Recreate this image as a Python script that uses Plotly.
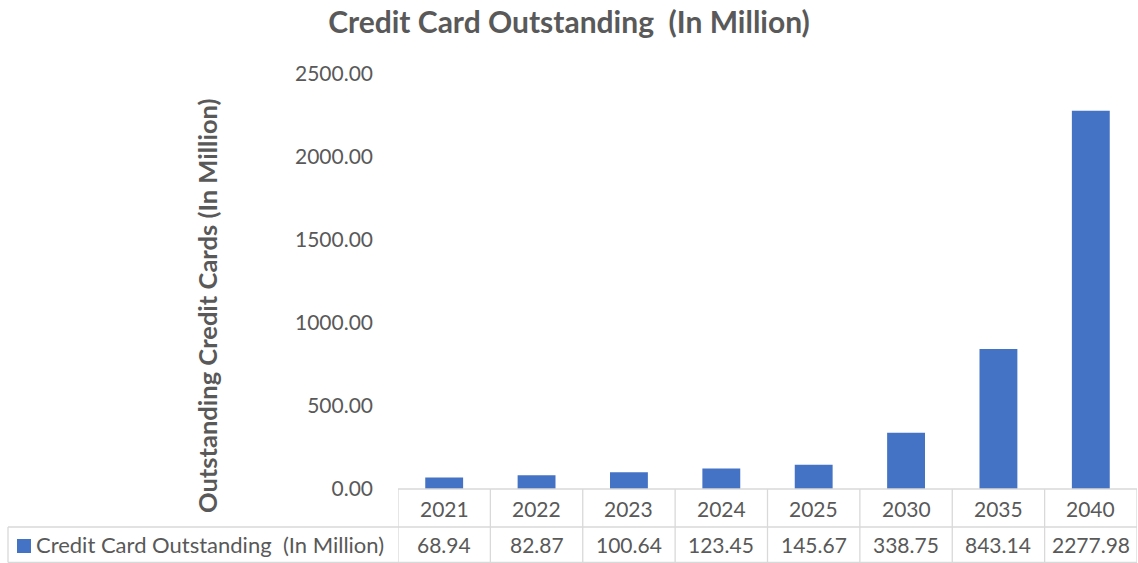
import plotly.graph_objects as go

# Data
years = ["2021", "2022", "2023", "2024", "2025", "2030", "2035", "2040"]
outstanding = [68.94, 82.87, 100.64, 123.45, 145.67, 338.75, 843.14, 2277.98]
series_name = "Credit Card Outstanding\u00a0\u00a0(In Million)"
chart_title = "Credit Card Outstanding\u00a0\u00a0(In Million)"
y_title = "Outstanding Credit Cards (In Million)"

W, H = 1138, 563
L, R, T, B = 398, 1, 74, 74
plot_w = W - L - R
plot_h = H - T - B

TEXT = "#595959"
GRID = "#d9d9d9"
BAR = "#4472C4"
FONT = "Lato"


def px_to_paper_y(py):
    return (H - B - py) / plot_h


def px_to_paper_x(px):
    return (px - L) / plot_w


fig = go.Figure(
    go.Bar(
        x=list(range(len(years))),
        y=outstanding,
        marker=dict(color=BAR, line=dict(width=0)),
        width=0.41,
        name=series_name,
        showlegend=False,
    )
)

row1_top = px_to_paper_y(H - B)
row1_bot = px_to_paper_y(527)
row2_bot = px_to_paper_y(562.5)
left_edge = px_to_paper_x(8)

shapes = []
line = dict(color=GRID, width=1.3)
# horizontal table lines
shapes.append(dict(type="line", xref="paper", yref="paper", x0=0, x1=1,
                   y0=row1_top, y1=row1_top, line=line))
shapes.append(dict(type="line", xref="paper", yref="paper", x0=left_edge, x1=1,
                   y0=row1_bot, y1=row1_bot, line=line))
shapes.append(dict(type="line", xref="paper", yref="paper", x0=left_edge, x1=1,
                   y0=row2_bot, y1=row2_bot, line=line))
# vertical table lines
for i in range(len(years) + 1):
    shapes.append(dict(type="line", xref="x", yref="paper", x0=i - 0.5, x1=i - 0.5,
                       y0=row1_top, y1=row2_bot, line=line))
shapes.append(dict(type="line", xref="paper", yref="paper", x0=left_edge, x1=left_edge,
                   y0=row1_bot, y1=row2_bot, line=line))
# legend key
shapes.append(dict(type="rect", xref="paper", yref="paper",
                   x0=px_to_paper_x(17), x1=px_to_paper_x(31),
                   y0=px_to_paper_y(553), y1=px_to_paper_y(539),
                   fillcolor=BAR, line=dict(width=0)))

annotations = []
for i, (yr, v) in enumerate(zip(years, outstanding)):
    annotations.append(dict(x=i, y=(row1_top + row1_bot) / 2, xref="x", yref="paper",
                            text=yr, showarrow=False, xanchor="center", yanchor="middle",
                            font=dict(family=FONT, size=21, color=TEXT)))
    annotations.append(dict(x=i, y=(row1_bot + row2_bot) / 2, xref="x", yref="paper",
                            text=f"{v:.2f}", showarrow=False, xanchor="center", yanchor="middle",
                            font=dict(family=FONT, size=21, color=TEXT)))
annotations.append(dict(x=px_to_paper_x(34), y=(row1_bot + row2_bot) / 2, xref="paper", yref="paper",
                        text=series_name, showarrow=False, xanchor="left", yanchor="middle",
                        font=dict(family=FONT, size=22, color=TEXT)))
annotations.append(dict(x=px_to_paper_x(207), y=px_to_paper_y(306), xref="paper", yref="paper",
                        text=y_title, textangle=-90, showarrow=False,
                        xanchor="center", yanchor="middle",
                        font=dict(family=FONT, size=25.5, color=TEXT, weight="bold")))

fig.update_layout(
    width=W, height=H,
    margin=dict(l=L, r=R, t=T, b=B),
    paper_bgcolor="white", plot_bgcolor="white",
    title=dict(text=chart_title, x=0.5, xref="container", xanchor="center",
               y=1 - 22 / H, yref="container", yanchor="middle",
               font=dict(family=FONT, size=30, color=TEXT, weight="bold")),
    bargap=0.59,
    shapes=shapes,
    annotations=annotations,
    showlegend=False,
)
fig.update_xaxes(range=[-0.5, len(years) - 0.5], showticklabels=False, showgrid=False,
                 zeroline=False, showline=False, ticks="")
fig.update_yaxes(range=[0, 2500], dtick=500, tickformat=".2f", showgrid=False,
                 zeroline=False, showline=False, ticks="", ticklabelstandoff=24,
                 tickfont=dict(family=FONT, size=21, color=TEXT))

fig.write_html("out.html")
